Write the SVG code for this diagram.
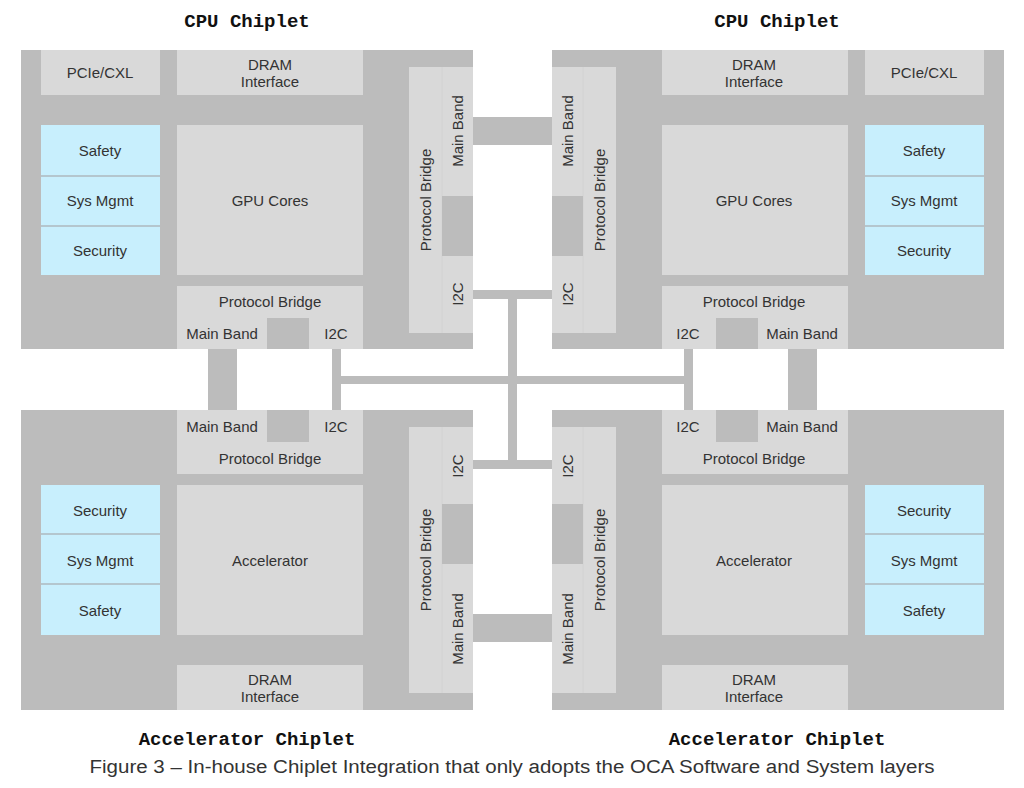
<svg xmlns="http://www.w3.org/2000/svg" width="1024" height="788" viewBox="0 0 1024 788">
<style>
.chip{fill:#bcbcbc}
.blk{fill:#d9d9d9}
.dk{fill:#bcbcbc}
.blu{fill:#c8effd}
.sep{stroke:#b4c6ce;stroke-width:2}
.div{stroke:#d2d2d2;stroke-width:1}
.bus{fill:#bcbcbc}
text{font-family:"Liberation Sans",Arial,sans-serif;font-size:15px;fill:#333;text-anchor:middle;dominant-baseline:central}
.ttl{font-family:"Liberation Mono","DejaVu Sans Mono",monospace;font-size:19px;font-weight:bold;fill:#111}
.cap{font-family:"Liberation Sans",Arial,sans-serif;font-size:18px;fill:#333}
</style>
<rect width="1024" height="788" fill="#ffffff"/>

<g id="connectors">
  <rect class="bus" x="473" y="117" width="79" height="28"/>
  <rect class="bus" x="473" y="614" width="79" height="28"/>
  <rect class="bus" x="473" y="290" width="79" height="9"/>
  <rect class="bus" x="473" y="460" width="79" height="9"/>
  <rect class="bus" x="508" y="299" width="9" height="161"/>
  <rect class="bus" x="332" y="349" width="9" height="61"/>
  <rect class="bus" x="684" y="349" width="9" height="61"/>
  <rect class="bus" x="341" y="376" width="343" height="8"/>
  <rect class="bus" x="208" y="349" width="29" height="61"/>
  <rect class="bus" x="788" y="349" width="29" height="61"/>
</g>

<g id="cpu-left">
  <text class="ttl" x="247" y="22">CPU Chiplet</text>
  <rect class="chip" x="21" y="50" width="452" height="299"/>
  <g id="cpu-left-pcie"><rect class="blk" x="41" y="50" width="119" height="45"/><text x="100" y="72">PCIe/CXL</text></g>
  <g id="cpu-left-dram"><rect class="blk" x="177" y="50" width="186" height="45"/><text x="270" y="64">DRAM</text><text x="270" y="81">Interface</text></g>
  <g id="cpu-left-mgmt">
    <rect class="blu" x="41" y="125" width="119" height="150"/>
    <line class="sep" x1="41" y1="176" x2="160" y2="176"/>
    <line class="sep" x1="41" y1="226" x2="160" y2="226"/>
    <text x="100" y="150">Safety</text><text x="100" y="200">Sys Mgmt</text><text x="100" y="250">Security</text>
  </g>
  <g id="cpu-left-gpu"><rect class="blk" x="177" y="125" width="186" height="150"/><text x="270" y="200">GPU Cores</text></g>
  <g id="cpu-left-pb">
    <rect class="blk" x="177" y="286" width="186" height="63"/>
    <rect class="dk" x="267" y="318" width="42" height="31"/>
    <text x="270" y="301">Protocol Bridge</text><text x="222" y="333">Main Band</text><text x="336" y="333">I2C</text>
  </g>
  <g id="cpu-left-vpb">
    <rect class="blk" x="409" y="67" width="64" height="266"/>
    <line class="div" x1="442" y1="67" x2="442" y2="333"/>
    <rect class="dk" x="442" y="196" width="31" height="60"/>
    <text transform="translate(425,200) rotate(-90)">Protocol Bridge</text>
    <text transform="translate(457,131) rotate(-90)">Main Band</text>
    <text transform="translate(457,294) rotate(-90)">I2C</text>
  </g>
</g>

<g id="cpu-right">
  <text class="ttl" x="777" y="22">CPU Chiplet</text>
  <rect class="chip" x="552" y="50" width="452" height="299"/>
  <g id="cpu-right-pcie"><rect class="blk" x="865" y="50" width="119" height="45"/><text x="924" y="72">PCIe/CXL</text></g>
  <g id="cpu-right-dram"><rect class="blk" x="662" y="50" width="186" height="45"/><text x="754" y="64">DRAM</text><text x="754" y="81">Interface</text></g>
  <g id="cpu-right-mgmt">
    <rect class="blu" x="865" y="125" width="119" height="150"/>
    <line class="sep" x1="865" y1="176" x2="984" y2="176"/>
    <line class="sep" x1="865" y1="226" x2="984" y2="226"/>
    <text x="924" y="150">Safety</text><text x="924" y="200">Sys Mgmt</text><text x="924" y="250">Security</text>
  </g>
  <g id="cpu-right-gpu"><rect class="blk" x="662" y="125" width="186" height="150"/><text x="754" y="200">GPU Cores</text></g>
  <g id="cpu-right-pb">
    <rect class="blk" x="662" y="286" width="186" height="63"/>
    <rect class="dk" x="716" y="318" width="42" height="31"/>
    <text x="754" y="301">Protocol Bridge</text><text x="802" y="333">Main Band</text><text x="688" y="333">I2C</text>
  </g>
  <g id="cpu-right-vpb">
    <rect class="blk" x="552" y="67" width="64" height="266"/>
    <line class="div" x1="583" y1="67" x2="583" y2="333"/>
    <rect class="dk" x="552" y="196" width="31" height="60"/>
    <text transform="translate(599,200) rotate(-90)">Protocol Bridge</text>
    <text transform="translate(567,131) rotate(-90)">Main Band</text>
    <text transform="translate(567,294) rotate(-90)">I2C</text>
  </g>
</g>

<g id="acc-left">
  <rect class="chip" x="21" y="410" width="452" height="300"/>
  <g id="acc-left-pb">
    <rect class="blk" x="177" y="410" width="186" height="64"/>
    <rect class="dk" x="267" y="410" width="42" height="32"/>
    <text x="222" y="426">Main Band</text><text x="336" y="426">I2C</text><text x="270" y="458">Protocol Bridge</text>
  </g>
  <g id="acc-left-mgmt">
    <rect class="blu" x="41" y="485" width="119" height="150"/>
    <line class="sep" x1="41" y1="534" x2="160" y2="534"/>
    <line class="sep" x1="41" y1="584" x2="160" y2="584"/>
    <text x="100" y="510">Security</text><text x="100" y="560">Sys Mgmt</text><text x="100" y="610">Safety</text>
  </g>
  <g id="acc-left-core"><rect class="blk" x="177" y="485" width="186" height="150"/><text x="270" y="560">Accelerator</text></g>
  <g id="acc-left-dram"><rect class="blk" x="177" y="665" width="186" height="45"/><text x="270" y="679">DRAM</text><text x="270" y="696">Interface</text></g>
  <g id="acc-left-vpb">
    <rect class="blk" x="409" y="427" width="64" height="266"/>
    <line class="div" x1="442" y1="427" x2="442" y2="693"/>
    <rect class="dk" x="442" y="504" width="31" height="60"/>
    <text transform="translate(425,560) rotate(-90)">Protocol Bridge</text>
    <text transform="translate(457,629) rotate(-90)">Main Band</text>
    <text transform="translate(457,466) rotate(-90)">I2C</text>
  </g>
  <text class="ttl" x="247" y="740">Accelerator Chiplet</text>
</g>

<g id="acc-right">
  <rect class="chip" x="552" y="410" width="452" height="300"/>
  <g id="acc-right-pb">
    <rect class="blk" x="662" y="410" width="186" height="64"/>
    <rect class="dk" x="716" y="410" width="42" height="32"/>
    <text x="802" y="426">Main Band</text><text x="688" y="426">I2C</text><text x="754" y="458">Protocol Bridge</text>
  </g>
  <g id="acc-right-mgmt">
    <rect class="blu" x="865" y="485" width="119" height="150"/>
    <line class="sep" x1="865" y1="534" x2="984" y2="534"/>
    <line class="sep" x1="865" y1="584" x2="984" y2="584"/>
    <text x="924" y="510">Security</text><text x="924" y="560">Sys Mgmt</text><text x="924" y="610">Safety</text>
  </g>
  <g id="acc-right-core"><rect class="blk" x="662" y="485" width="186" height="150"/><text x="754" y="560">Accelerator</text></g>
  <g id="acc-right-dram"><rect class="blk" x="662" y="665" width="186" height="45"/><text x="754" y="679">DRAM</text><text x="754" y="696">Interface</text></g>
  <g id="acc-right-vpb">
    <rect class="blk" x="552" y="427" width="64" height="266"/>
    <line class="div" x1="583" y1="427" x2="583" y2="693"/>
    <rect class="dk" x="552" y="504" width="31" height="60"/>
    <text transform="translate(599,560) rotate(-90)">Protocol Bridge</text>
    <text transform="translate(567,629) rotate(-90)">Main Band</text>
    <text transform="translate(567,466) rotate(-90)">I2C</text>
  </g>
  <text class="ttl" x="777" y="740">Accelerator Chiplet</text>
</g>

<text class="cap" x="512" y="767" textLength="845" lengthAdjust="spacingAndGlyphs">Figure 3 – In-house Chiplet Integration that only adopts the OCA Software and System layers</text>
</svg>
